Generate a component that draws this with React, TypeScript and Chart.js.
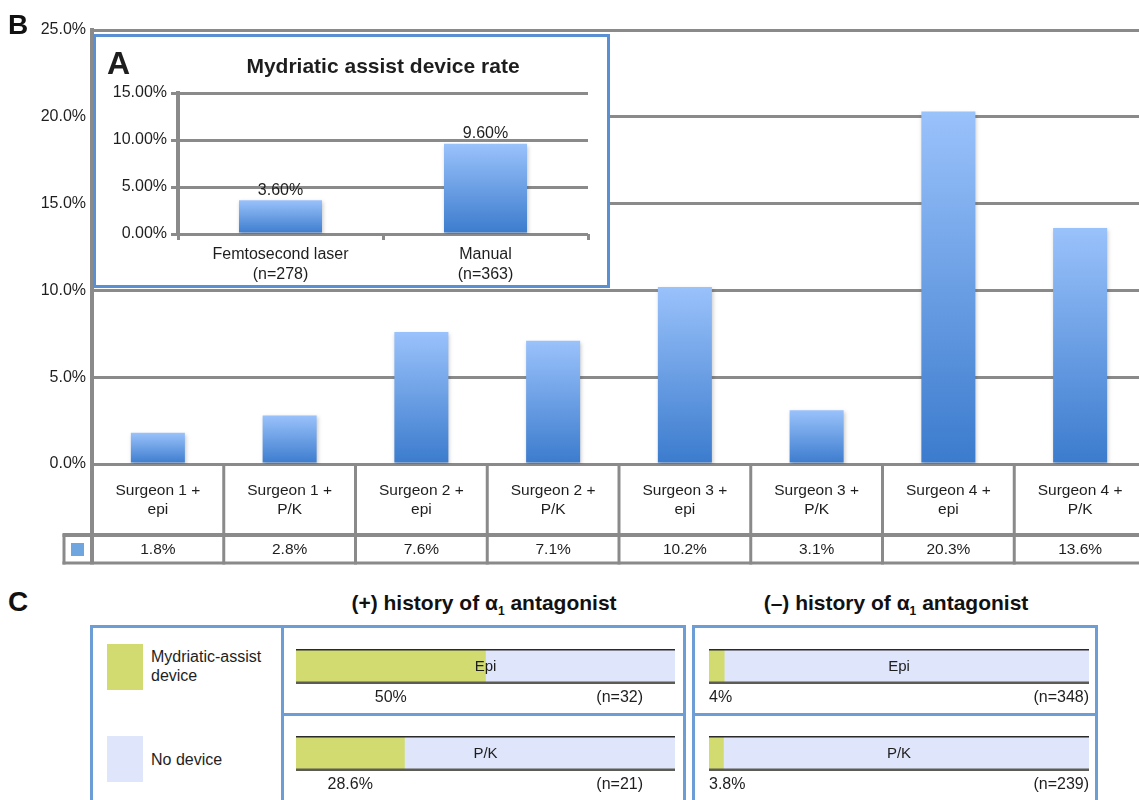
import React, { useEffect, useRef } from 'react';
import { Chart, registerables } from 'chart.js';

Chart.register(...registerables);

const FONT = '"Liberation Sans", Arial, Helvetica, sans-serif';
const GRID = '#8a8a8a';
const TEXT = '#1e1e1e';

// ---- Panel B data ----
const mainCategories: string[][] = [
  ['Surgeon 1 +', 'epi'],
  ['Surgeon 1 +', 'P/K'],
  ['Surgeon 2 +', 'epi'],
  ['Surgeon 2 +', 'P/K'],
  ['Surgeon 3 +', 'epi'],
  ['Surgeon 3 +', 'P/K'],
  ['Surgeon 4 +', 'epi'],
  ['Surgeon 4 +', 'P/K'],
];
const mainValues = [1.8, 2.8, 7.6, 7.1, 10.2, 3.1, 20.3, 13.6];
const mainTickValues = [0, 5, 10, 15, 20, 25];

// ---- Panel A data ----
const insetTitle = 'Mydriatic assist device rate';
const insetCategories: string[][] = [
  ['Femtosecond laser', '(n=278)'],
  ['Manual', '(n=363)'],
];
const insetValues = [3.6, 9.6];
const insetTickValues = [0, 5, 10, 15];

// ---- Panel C data ----
const legendLabels = ['Mydriatic-assist device', 'No device'];
const groupLabels = ['Epi', 'P/K'];
const deviceWithAlpha = [50, 28.6];
const noDeviceWithAlpha = [50, 71.4];
const countsWithAlpha = [32, 21];
const deviceWithoutAlpha = [4, 3.8];
const noDeviceWithoutAlpha = [96, 96.2];
const countsWithoutAlpha = [348, 239];

function barGradient(ctx: any) {
  const chart = ctx.chart;
  const y = chart.scales && chart.scales.y;
  const v = chart.data.datasets[ctx.datasetIndex]?.data[ctx.dataIndex];
  if (!y || typeof v !== 'number') return '#6fa6e0';
  const top = y.getPixelForValue(v);
  const base = y.getPixelForValue(0);
  if (!isFinite(top) || !isFinite(base) || top === base) return '#6fa6e0';
  const g = chart.ctx.createLinearGradient(0, top, 0, base);
  g.addColorStop(0, '#9ac2fb');
  g.addColorStop(1, '#3b7bcd');
  return g;
}

const shadowPlugin = {
  id: 'barShadow',
  beforeDatasetsDraw(chart: any) {
    const c = chart.ctx;
    c.save();
    c.shadowColor = 'rgba(0,0,0,0.22)';
    c.shadowBlur = 4;
    c.shadowOffsetX = 1;
    c.shadowOffsetY = 2;
  },
  afterDatasetsDraw(chart: any) {
    chart.ctx.restore();
  },
};

const tablePlugin = {
  id: 'dataTable',
  afterDraw(chart: any) {
    const { ctx, chartArea: a, scales } = chart;
    const x = scales.x;
    const n = mainValues.length;
    const step = x.getPixelForValue(1) - x.getPixelForValue(0);
    const top = a.bottom;
    const row1Bottom = top + 70;
    const row2Bottom = top + 99;
    const legendLeft = 64;
    const W = chart.width;
    ctx.save();
    ctx.strokeStyle = GRID;
    ctx.lineWidth = 4;
    ctx.beginPath();
    ctx.moveTo(legendLeft - 1.5, row1Bottom + 1);
    ctx.lineTo(W, row1Bottom + 1);
    ctx.stroke();
    ctx.lineWidth = 3;
    ctx.beginPath();
    ctx.moveTo(legendLeft - 1.5, row2Bottom);
    ctx.lineTo(W, row2Bottom);
    ctx.stroke();
    for (let i = 1; i < n; i++) {
      const bx = x.getPixelForValue(i) - step / 2;
      ctx.beginPath();
      ctx.moveTo(bx, top);
      ctx.lineTo(bx, row2Bottom + 1.5);
      ctx.stroke();
    }
    ctx.beginPath();
    ctx.moveTo(legendLeft, row1Bottom);
    ctx.lineTo(legendLeft, row2Bottom + 1.5);
    ctx.stroke();
    ctx.lineWidth = 4;
    ctx.beginPath();
    ctx.moveTo(a.left, top);
    ctx.lineTo(a.left, row2Bottom + 1.5);
    ctx.stroke();
    ctx.fillStyle = '#6fa6e0';
    ctx.fillRect(71, row1Bottom + 9, 13, 13);
    ctx.fillStyle = TEXT;
    ctx.textAlign = 'center';
    ctx.textBaseline = 'middle';
    ctx.font = `15.5px ${FONT}`;
    for (let i = 0; i < n; i++) {
      const cx = x.getPixelForValue(i);
      const lines = mainCategories[i];
      lines.forEach((ln, k) => ctx.fillText(ln, cx, top + 27 + k * 19));
      ctx.fillText(mainValues[i].toFixed(1) + '%', cx, top + 86);
    }
    ctx.restore();
  },
};

const insetLabelPlugin = {
  id: 'insetLabels',
  afterDatasetsDraw(chart: any) {
    const { ctx, chartArea: a } = chart;
    const meta = chart.getDatasetMeta(0);
    ctx.save();
    ctx.fillStyle = TEXT;
    ctx.textAlign = 'center';
    ctx.textBaseline = 'middle';
    ctx.font = `16px ${FONT}`;
    meta.data.forEach((bar: any, i: number) => {
      ctx.fillText(insetValues[i].toFixed(2) + '%', bar.x, bar.y - 10);
    });
    ctx.font = `bold 21px ${FONT}`;
    ctx.fillText(insetTitle, (a.left + a.right) / 2, 30);
    ctx.textAlign = 'left';
    ctx.font = `bold 32px ${FONT}`;
    ctx.fillText('A', 11, 28);
    ctx.restore();
  },
};

const hbarPlugin = {
  id: 'hbarDeco',
  afterDatasetsDraw(chart: any, _args: any, opts: any) {
    const { ctx, chartArea: a } = chart;
    ctx.save();
    ctx.lineWidth = 1.5;
    ctx.strokeStyle = '#2a2a2a';
    ctx.beginPath();
    ctx.moveTo(a.left, a.top + 0.75);
    ctx.lineTo(a.right, a.top + 0.75);
    ctx.stroke();
    ctx.lineWidth = 2.5;
    ctx.strokeStyle = '#5c5c55';
    ctx.beginPath();
    ctx.moveTo(a.left, a.bottom - 1.25);
    ctx.lineTo(a.right, a.bottom - 1.25);
    ctx.stroke();
    ctx.fillStyle = TEXT;
    ctx.textAlign = 'center';
    ctx.textBaseline = 'middle';
    ctx.font = `15px ${FONT}`;
    ctx.fillText(chart.data.labels[0], (a.left + a.right) / 2, (a.top + a.bottom) / 2);
    const bar: any = chart.getDatasetMeta(0).data[0];
    const v = chart.data.datasets[0].data[0];
    const pct = `${v}%`;
    ctx.font = `16px ${FONT}`;
    const w = ctx.measureText(pct).width;
    const segL = Math.min(bar.base, bar.x);
    const segR = Math.max(bar.base, bar.x);
    const cx = Math.max((segL + segR) / 2, a.left + w / 2);
    ctx.fillText(pct, cx, a.bottom + 14);
    ctx.textAlign = 'right';
    ctx.fillText(`(n=${opts.n})`, a.right - opts.nInset, a.bottom + 14);
    ctx.restore();
  },
};

function MainChart() {
  const ref = useRef<HTMLCanvasElement>(null);
  useEffect(() => {
    const chart = new Chart(ref.current as HTMLCanvasElement, {
      type: 'bar',
      data: {
        labels: mainCategories.map((c) => c.join(' ')),
        datasets: [
          {
            label: 'Mydriatic assist device rate',
            data: mainValues,
            backgroundColor: barGradient as any,
            borderWidth: 0,
            barPercentage: 0.41,
            categoryPercentage: 1,
          },
        ],
      },
      options: {
        responsive: false,
        animation: false,
        devicePixelRatio: 1,
        layout: { padding: { top: 30, right: 4, bottom: 106, left: 0 } },
        plugins: { legend: { display: false }, tooltip: { enabled: false }, title: { display: false } },
        scales: {
          x: { display: false },
          y: {
            min: 0,
            max: 25,
            afterBuildTicks: (s: any) => {
              s.ticks = mainTickValues.map((v) => ({ value: v }));
            },
            ticks: {
              padding: 6,
              color: TEXT,
              font: { family: FONT, size: 16 },
              callback: (v: any) => Number(v).toFixed(1) + '%',
            },
            grid: { color: GRID, lineWidth: 3, drawTicks: false },
            border: { display: true, color: GRID, width: 4 },
            afterFit: (s: any) => {
              s.width = 92;
            },
          },
        },
      } as any,
      plugins: [shadowPlugin, tablePlugin],
    });
    return () => chart.destroy();
  }, []);
  return <canvas ref={ref} width={1150} height={570} style={{ position: 'absolute', left: 0, top: 0 }} />;
}

function InsetChart() {
  const ref = useRef<HTMLCanvasElement>(null);
  useEffect(() => {
    const chart = new Chart(ref.current as HTMLCanvasElement, {
      type: 'bar',
      data: {
        labels: insetCategories as any,
        datasets: [
          {
            label: insetTitle,
            data: insetValues,
            backgroundColor: barGradient as any,
            borderWidth: 0,
            barPercentage: 0.405,
            categoryPercentage: 1,
          },
        ],
      },
      options: {
        responsive: false,
        animation: false,
        devicePixelRatio: 1,
        layout: { padding: { top: 56, right: 19, bottom: 0, left: 0 } },
        plugins: { legend: { display: false }, tooltip: { enabled: false } },
        scales: {
          x: {
            ticks: { color: TEXT, font: { family: FONT, size: 16, lineHeight: 1.25 }, padding: 5, maxRotation: 0 },
            grid: { display: true, drawOnChartArea: false, offset: true, color: GRID, lineWidth: 3, tickLength: 6 },
            border: { display: false },
            afterFit: (s: any) => {
              s.height = 51;
            },
          },
          y: {
            min: 0,
            max: 15,
            afterBuildTicks: (s: any) => {
              s.ticks = insetTickValues.map((v) => ({ value: v }));
            },
            ticks: {
              padding: 4,
              color: TEXT,
              font: { family: FONT, size: 16 },
              callback: (v: any) => Number(v).toFixed(2) + '%',
            },
            grid: { color: GRID, lineWidth: 3, tickLength: 7 },
            border: { display: true, color: GRID, width: 4 },
            afterFit: (s: any) => {
              s.width = 82;
            },
          },
        },
      } as any,
      plugins: [shadowPlugin, insetLabelPlugin],
    });
    return () => chart.destroy();
  }, []);
  return <canvas ref={ref} width={511} height={248} style={{ position: 'absolute', left: 0, top: 0 }} />;
}

function HBar(props: {
  label: string;
  device: number;
  noDevice: number;
  n: number;
  w: number;
  h: number;
  padL: number;
  padR: number;
  padT: number;
  nInset: number;
}) {
  const ref = useRef<HTMLCanvasElement>(null);
  useEffect(() => {
    const chart = new Chart(ref.current as HTMLCanvasElement, {
      type: 'bar',
      data: {
        labels: [props.label],
        datasets: [
          { label: legendLabels[0], data: [props.device], backgroundColor: '#d1db70', borderWidth: 0, stack: 's' },
          { label: legendLabels[1], data: [props.noDevice], backgroundColor: '#dfe5fa', borderWidth: 0, stack: 's' },
        ],
      },
      options: {
        indexAxis: 'y',
        responsive: false,
        animation: false,
        devicePixelRatio: 1,
        barPercentage: 1,
        categoryPercentage: 1,
        layout: { padding: { top: props.padT, bottom: props.h - props.padT - 35, left: props.padL, right: props.padR } },
        plugins: { legend: { display: false }, tooltip: { enabled: false }, hbarDeco: { n: props.n, nInset: props.nInset } },
        scales: {
          x: { display: false, stacked: true, min: 0, max: 100 },
          y: { display: false, stacked: true },
        },
      } as any,
      plugins: [hbarPlugin],
    });
    return () => chart.destroy();
  }, []);
  return <canvas ref={ref} width={props.w} height={props.h} style={{ position: 'absolute', left: 0, top: 0 }} />;
}

const boxBorder = '3px solid #6c9dd4';

function Box(props: { left: number; top: number; width: number; height: number; children?: any }) {
  return (
    <div
      style={{
        position: 'absolute',
        left: props.left,
        top: props.top,
        width: props.width,
        height: props.height,
        border: boxBorder,
        boxSizing: 'border-box',
        background: '#fff',
      }}
    >
      <div style={{ position: 'absolute', left: 0, top: 0, right: 0, bottom: 0 }}>{props.children}</div>
    </div>
  );
}

function Title(props: { left: number; width: number; sign: string }) {
  return (
    <div
      style={{
        position: 'absolute',
        left: props.left,
        width: props.width,
        top: 590,
        textAlign: 'center',
        fontWeight: 'bold',
        fontSize: 21,
        lineHeight: '26px',
        color: '#111',
        whiteSpace: 'nowrap',
      }}
    >
      {props.sign} history of α
      <span style={{ fontSize: 12, position: 'relative', top: 5 }}>1</span> antagonist
    </div>
  );
}

export default function App() {
  return (
    <div
      style={{
        position: 'fixed',
        left: 0,
        top: 0,
        width: 1139,
        height: 800,
        overflow: 'hidden',
        background: '#fff',
        fontFamily: FONT,
        color: TEXT,
      }}
    >
      <MainChart />
      <div style={{ position: 'absolute', left: 8, top: 10, fontWeight: 'bold', fontSize: 28, lineHeight: '30px', color: '#111' }}>B</div>

      <div
        style={{
          position: 'absolute',
          left: 93,
          top: 34,
          width: 517,
          height: 254,
          border: '3px solid #5b8fd3',
          boxSizing: 'border-box',
          background: '#fff',
        }}
      >
        <div style={{ position: 'absolute', left: 0, top: 0, width: 511, height: 248 }}>
          <InsetChart />
        </div>
      </div>

      <div style={{ position: 'absolute', left: 8, top: 587, fontWeight: 'bold', fontSize: 28, lineHeight: '30px', color: '#111' }}>C</div>
      <Title left={282} width={404} sign="(+)" />
      <Title left={694} width={404} sign="(–)" />

      <Box left={90} top={625} width={194} height={200}>
        <div style={{ position: 'absolute', left: 14, top: 16, width: 36, height: 46, background: '#d1db70' }} />
        <div style={{ position: 'absolute', left: 58, top: 19, width: 125, fontSize: 16, lineHeight: '19px' }}>{legendLabels[0]}</div>
        <div style={{ position: 'absolute', left: 14, top: 108, width: 36, height: 46, background: '#dfe5fa' }} />
        <div style={{ position: 'absolute', left: 58, top: 122, width: 125, fontSize: 16, lineHeight: '19px' }}>{legendLabels[1]}</div>
      </Box>

      <Box left={281} top={625} width={405} height={91}>
        <HBar label={groupLabels[0]} device={deviceWithAlpha[0]} noDevice={noDeviceWithAlpha[0]} n={countsWithAlpha[0]} w={399} h={85} padL={12} padR={8} padT={21} nInset={32} />
      </Box>
      <Box left={281} top={713} width={405} height={100}>
        <HBar label={groupLabels[1]} device={deviceWithAlpha[1]} noDevice={noDeviceWithAlpha[1]} n={countsWithAlpha[1]} w={399} h={84} padL={12} padR={8} padT={20} nInset={32} />
      </Box>
      <Box left={692} top={625} width={406} height={91}>
        <HBar label={groupLabels[0]} device={deviceWithoutAlpha[0]} noDevice={noDeviceWithoutAlpha[0]} n={countsWithoutAlpha[0]} w={400} h={85} padL={14} padR={6} padT={21} nInset={0} />
      </Box>
      <Box left={692} top={713} width={406} height={100}>
        <HBar label={groupLabels[1]} device={deviceWithoutAlpha[1]} noDevice={noDeviceWithoutAlpha[1]} n={countsWithoutAlpha[1]} w={400} h={84} padL={14} padR={6} padT={20} nInset={0} />
      </Box>
    </div>
  );
}
